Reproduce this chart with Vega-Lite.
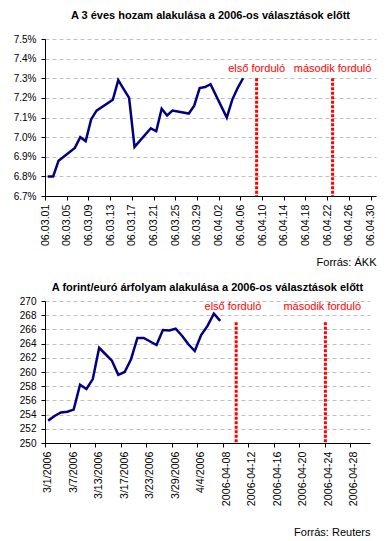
{
  "$schema": "https://vega.github.io/schema/vega-lite/v6.json",
  "background": "white",
  "padding": {"left": 13, "top": 10, "right": 5, "bottom": 5},
  "spacing": 15,
  "config": {
    "font": "Liberation Sans",
    "view": {"stroke": null},
    "axis": {"domainColor": "#000000", "tickColor": "#000000", "labelColor": "#000000", "labelFont": "Liberation Sans", "titleFont": "Liberation Sans", "titleColor": "#000000", "domainWidth": 1, "tickWidth": 1, "labelOverlap": false},
    "title": {"font": "Liberation Sans", "fontSize": 11, "fontWeight": "bold", "color": "#000000", "anchor": "middle", "frame": "group"}
  },
  "datasets": {
    "yield": [
      {"date": "2006-03-01T12:00:00", "value": 0.0680},
      {"date": "2006-03-02T12:00:00", "value": 0.0680},
      {"date": "2006-03-03T12:00:00", "value": 0.0688},
      {"date": "2006-03-06T12:00:00", "value": 0.06945},
      {"date": "2006-03-07T12:00:00", "value": 0.0700},
      {"date": "2006-03-08T12:00:00", "value": 0.0698},
      {"date": "2006-03-09T12:00:00", "value": 0.0709},
      {"date": "2006-03-10T12:00:00", "value": 0.07135},
      {"date": "2006-03-13T12:00:00", "value": 0.0719},
      {"date": "2006-03-14T12:00:00", "value": 0.0729},
      {"date": "2006-03-15T12:00:00", "value": 0.07245},
      {"date": "2006-03-16T12:00:00", "value": 0.0720},
      {"date": "2006-03-17T12:00:00", "value": 0.0695},
      {"date": "2006-03-20T12:00:00", "value": 0.07045},
      {"date": "2006-03-21T12:00:00", "value": 0.0703},
      {"date": "2006-03-22T12:00:00", "value": 0.07145},
      {"date": "2006-03-23T12:00:00", "value": 0.0711},
      {"date": "2006-03-24T12:00:00", "value": 0.07135},
      {"date": "2006-03-27T12:00:00", "value": 0.0712},
      {"date": "2006-03-28T12:00:00", "value": 0.0716},
      {"date": "2006-03-29T12:00:00", "value": 0.0725},
      {"date": "2006-03-30T12:00:00", "value": 0.07255},
      {"date": "2006-03-31T12:00:00", "value": 0.0727},
      {"date": "2006-04-03T12:00:00", "value": 0.0710},
      {"date": "2006-04-04T12:00:00", "value": 0.0719},
      {"date": "2006-04-05T12:00:00", "value": 0.0725},
      {"date": "2006-04-06T12:00:00", "value": 0.0730}
    ],
    "events1": [
      {"date": "2006-04-09T00:00:00", "label": "első forduló"},
      {"date": "2006-04-23T00:00:00", "label": "második forduló"}
    ],
    "fx": [
      {"day": "3/1/2006", "rate": 253.15},
      {"day": "3/2/2006", "rate": 253.8},
      {"day": "3/3/2006", "rate": 254.3},
      {"day": "3/6/2006", "rate": 254.4},
      {"day": "3/7/2006", "rate": 254.7},
      {"day": "3/8/2006", "rate": 258.2},
      {"day": "3/9/2006", "rate": 257.6},
      {"day": "3/10/2006", "rate": 259.0},
      {"day": "3/13/2006", "rate": 263.4},
      {"day": "3/14/2006", "rate": 262.5},
      {"day": "3/15/2006", "rate": 261.6},
      {"day": "3/16/2006", "rate": 259.6},
      {"day": "3/17/2006", "rate": 260.0},
      {"day": "3/20/2006", "rate": 261.8},
      {"day": "3/21/2006", "rate": 264.8},
      {"day": "3/22/2006", "rate": 264.8},
      {"day": "3/23/2006", "rate": 264.3},
      {"day": "3/24/2006", "rate": 263.8},
      {"day": "3/27/2006", "rate": 265.9},
      {"day": "3/28/2006", "rate": 265.85},
      {"day": "3/29/2006", "rate": 266.1},
      {"day": "3/30/2006", "rate": 265.1},
      {"day": "3/31/2006", "rate": 263.9},
      {"day": "4/3/2006", "rate": 262.95},
      {"day": "4/4/2006", "rate": 265.2},
      {"day": "4/5/2006", "rate": 266.5},
      {"day": "4/6/2006", "rate": 268.2},
      {"day": "4/7/2006", "rate": 267.2}
    ],
    "events2": [
      {"day": "2006-04-09", "label": "első forduló"},
      {"day": "2006-04-23", "label": "második forduló"}
    ]
  },
  "vconcat": [
    {
      "width": 331,
      "height": 157,
      "title": {"text": "A 3 éves hozam alakulása a 2006-os választások előtt", "offset": 13},
      "layer": [
        {
          "data": {"name": "yield"},
          "mark": {"type": "line", "color": "#000080", "strokeWidth": 2.5},
          "encoding": {
            "x": {
              "field": "date", "type": "temporal",
              "scale": {"domain": [{"year": 2006, "month": 3, "date": 1}, {"year": 2006, "month": 5, "date": 1}]},
              "axis": {
                "values": [
                  {"year": 2006, "month": 3, "date": 1}, {"year": 2006, "month": 3, "date": 5}, {"year": 2006, "month": 3, "date": 9}, {"year": 2006, "month": 3, "date": 13},
                  {"year": 2006, "month": 3, "date": 17}, {"year": 2006, "month": 3, "date": 21}, {"year": 2006, "month": 3, "date": 25}, {"year": 2006, "month": 3, "date": 29},
                  {"year": 2006, "month": 4, "date": 2}, {"year": 2006, "month": 4, "date": 6}, {"year": 2006, "month": 4, "date": 10}, {"year": 2006, "month": 4, "date": 14},
                  {"year": 2006, "month": 4, "date": 18}, {"year": 2006, "month": 4, "date": 22}, {"year": 2006, "month": 4, "date": 26}, {"year": 2006, "month": 4, "date": 30}
                ],
                "tickCount": 100,
                "format": "%y.%m.%d",
                "labelAngle": -90,
                "labelFontSize": 10.7,
                "labelPadding": 4,
                "labelFlush": false,
                "labelOverlap": false,
                "grid": false,
                "tickSize": 4,
                "title": "Forrás: ÁKK",
                "titleAnchor": "end",
                "titleFontSize": 11,
                "titleFontWeight": "normal",
                "titleBaseline": "middle",
                "titleY": 66
              }
            },
            "y": {
              "field": "value", "type": "quantitative",
              "scale": {"domain": [0.067, 0.075], "nice": false, "zero": false},
              "axis": {
                "values": [0.067, 0.068, 0.069, 0.070, 0.071, 0.072, 0.073, 0.074, 0.075],
                "tickCount": 100,
                "format": ".1%",
                "title": null,
                "grid": true,
                "gridColor": "#c0c0c0",
                "gridDash": [4, 3],
                "tickSize": 4,
                "labelFontSize": 10,
                "labelPadding": 5,
                "labelOverlap": false
              }
            }
          }
        },
        {
          "data": {"name": "events1"},
          "mark": {"type": "rule", "color": "#ff0000", "strokeWidth": 3, "strokeDash": [3, 1.5]},
          "encoding": {
            "x": {"field": "date", "type": "temporal"},
            "y": {"datum": 0.073},
            "y2": {"datum": 0.067}
          }
        },
        {
          "data": {"name": "events1"},
          "mark": {"type": "text", "color": "#ff0000", "fontSize": 11, "baseline": "middle", "font": "Liberation Sans"},
          "encoding": {
            "x": {"field": "date", "type": "temporal"},
            "y": {"datum": 0.07346},
            "text": {"field": "label"}
          }
        }
      ]
    },
    {
      "width": 325,
      "height": 142,
      "title": {"text": "A forint/euró árfolyam alakulása a 2006-os választások előtt", "offset": 3},
      "layer": [
        {
          "data": {"name": "fx"},
          "mark": {"type": "line", "color": "#000080", "strokeWidth": 2.5},
          "encoding": {
            "x": {
              "field": "day", "type": "ordinal", "sort": null,
              "scale": {
                "type": "band", "paddingInner": 0, "paddingOuter": 0,
                "domain": ["3/1/2006", "3/2/2006", "3/3/2006", "3/6/2006", "3/7/2006", "3/8/2006", "3/9/2006", "3/10/2006", "3/13/2006", "3/14/2006", "3/15/2006", "3/16/2006", "3/17/2006", "3/20/2006", "3/21/2006", "3/22/2006", "3/23/2006", "3/24/2006", "3/27/2006", "3/28/2006", "3/29/2006", "3/30/2006", "3/31/2006", "4/3/2006", "4/4/2006", "4/5/2006", "4/6/2006", "4/7/2006",
                  "2006-04-08", "2006-04-09", "2006-04-10", "2006-04-11", "2006-04-12", "2006-04-13", "2006-04-14", "2006-04-15", "2006-04-16", "2006-04-17", "2006-04-18", "2006-04-19", "2006-04-20", "2006-04-21", "2006-04-22", "2006-04-23", "2006-04-24", "2006-04-25", "2006-04-26", "2006-04-27", "2006-04-28", "2006-04-29", "2006-04-30"]
              },
              "axis": {
                "values": ["3/1/2006", "3/7/2006", "3/13/2006", "3/17/2006", "3/23/2006", "3/29/2006", "4/4/2006", "2006-04-08", "2006-04-12", "2006-04-16", "2006-04-20", "2006-04-24", "2006-04-28"],
                "bandPosition": 0,
                "labelAngle": -90,
                "labelFontSize": 10.7,
                "labelPadding": 4,
                "labelOverlap": false,
                "grid": false,
                "tickSize": 4,
                "title": "Forrás: Reuters",
                "titleAnchor": "end",
                "titleFontSize": 11,
                "titleFontWeight": "normal",
                "titleBaseline": "middle",
                "titleY": 89
              }
            },
            "y": {
              "field": "rate", "type": "quantitative",
              "scale": {"domain": [250, 270], "nice": false, "zero": false},
              "axis": {
                "values": [250, 252, 254, 256, 258, 260, 262, 264, 266, 268, 270],
                "tickCount": 100,
                "format": "d",
                "title": null,
                "grid": true,
                "gridColor": "#c0c0c0",
                "gridDash": [4, 3],
                "tickSize": 4,
                "labelFontSize": 10,
                "labelPadding": 5,
                "labelOverlap": false
              }
            }
          }
        },
        {
          "data": {"name": "events2"},
          "mark": {"type": "rule", "color": "#ff0000", "strokeWidth": 3, "strokeDash": [3, 1.5]},
          "encoding": {
            "x": {"field": "day", "type": "ordinal", "bandPosition": 1},
            "y": {"datum": 267},
            "y2": {"datum": 250}
          }
        },
        {
          "data": {"name": "events2"},
          "mark": {"type": "text", "color": "#ff0000", "fontSize": 11, "baseline": "middle", "font": "Liberation Sans"},
          "encoding": {
            "x": {"field": "day", "type": "ordinal", "bandPosition": 0.5},
            "y": {"datum": 269.2},
            "text": {"field": "label"}
          }
        }
      ]
    }
  ]
}
